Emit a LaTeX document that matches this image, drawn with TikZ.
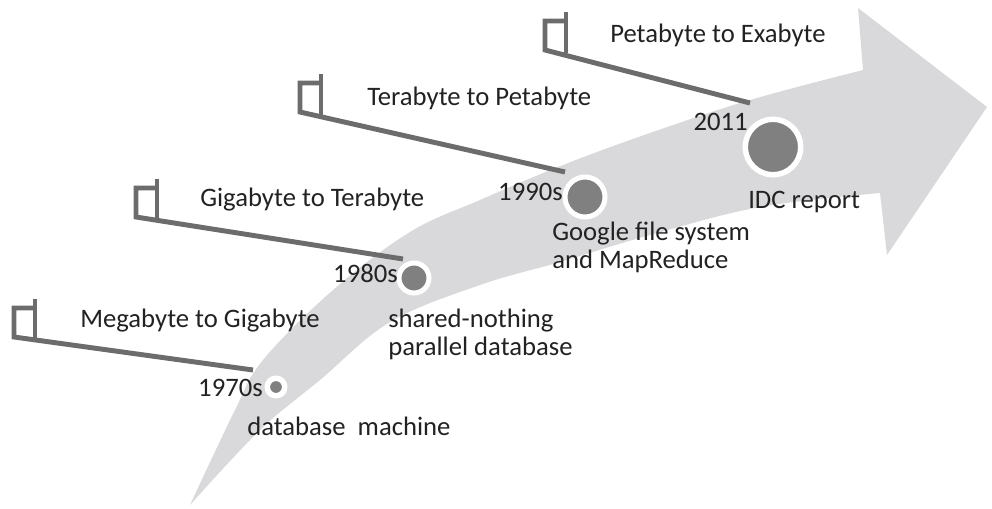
\documentclass[tikz,border=0pt]{standalone}
\usepackage{fontspec}
\setmainfont{Carlito}
\definecolor{band}{RGB}{217,217,219}
\definecolor{dot}{RGB}{128,128,128}
\definecolor{polec}{RGB}{108,108,108}
\definecolor{ink}{RGB}{34,34,34}
\begin{document}
\begin{tikzpicture}[x=0.75pt,y=-0.75pt,
  lbl/.style={font=\fontsize{20}{21}\selectfont, text=ink, inner sep=0pt, align=left},
  pole/.style={draw=polec, line width=3.7pt},
  ev/.style={circle, fill=dot, draw=white, inner sep=0pt}]
\useasboundingbox (0,0) rectangle (992,508);

% curved timeline arrow
\fill[band]
  plot[smooth, tension=0.6] coordinates {(190,505) (235,410) (263,360) (333,290) (410,232) (480,200) (563,165) (650,133) (750,100) (863,70)}
  -- (858,8) -- (987,107) -- (887,255) -- (880,193)
  -- plot[smooth, tension=0.6] coordinates {(880,193) (760,207) (650,235) (560,262) (480,285) (390,322) (320,380) (260,430) (190,505)}
  -- cycle;

% milestones on the arrow
\node[ev, minimum size=13.1pt, line width=4.1pt] (m1) at (276,387) {};
\node[ev, minimum size=22.5pt, line width=3.75pt] (m2) at (414,278) {};
\node[ev, minimum size=30pt, line width=3.75pt] (m3) at (585,197) {};
\node[ev, minimum size=41.6pt, line width=4.1pt] (m4) at (773,147) {};

% years
\node[lbl, anchor=base east] (y1) at (263,396) {1970s};
\node[lbl, anchor=base east] (y2) at (398,282) {1980s};
\node[lbl, anchor=base east] (y3) at (563,200) {1990s};
\node[lbl, anchor=base east] (y4) at (748,130) {2011};

% descriptions
\node[lbl, anchor=base west] (d1) at (247,435) {database\ \ machine};
\node[lbl, anchor=base west] (d2) at (388,327) {shared-nothing};
\node[lbl, anchor=base west] (d2b) at (388,355) {parallel database};
\node[lbl, anchor=base west] (d3) at (552,240) {Google file system};
\node[lbl, anchor=base west] (d3b) at (552,268) {and MapReduce};
\node[lbl, anchor=base west] (d4) at (748,208) {IDC report};

% data scales
\node[lbl, anchor=base west] (s1) at (80,327) {Megabyte to Gigabyte};
\node[lbl, anchor=base west] (s2) at (200,206) {Gigabyte to Terabyte};
\node[lbl, anchor=base west] (s3) at (367,105) {Terabyte to Petabyte};
\node[lbl, anchor=base west] (s4) at (610,42) {Petabyte to Exabyte};

% flag poles
\coordinate (f1) at (14,337);  \coordinate (e1) at (253,370);
\coordinate (f2) at (136,217); \coordinate (e2) at (403,259);
\coordinate (f3) at (300,112); \coordinate (e3) at (565,172);
\coordinate (f4) at (545,50);  \coordinate (e4) at (750,103);
\foreach \i in {1,2,3,4}{
  \draw[pole] (f\i) ++(21,-29) -- ++(-21,0) -- (f\i) -- (e\i);
  \draw[pole] (f\i) ++(21,-38) -- ++(0,41);
}
\end{tikzpicture}
\end{document}
